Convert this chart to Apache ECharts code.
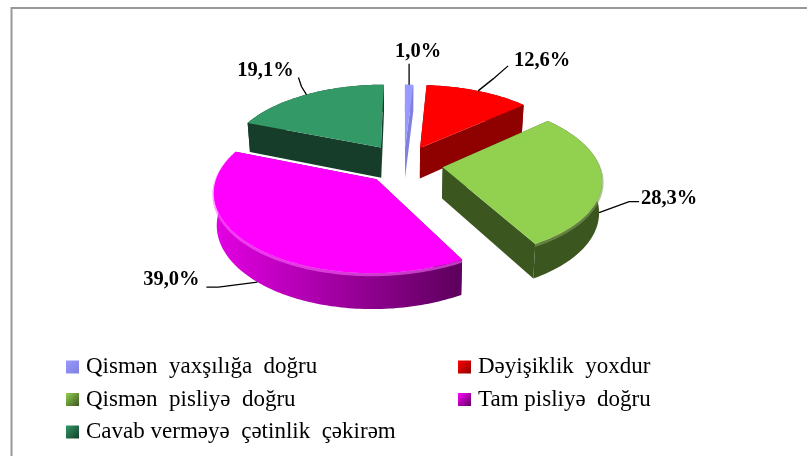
<!DOCTYPE html>
<html><head><meta charset="utf-8">
<style>html,body{margin:0;padding:0;background:#fff}#c{width:807px;height:456px}</style>
<script src="https://cdn.jsdelivr.net/npm/echarts@6/dist/echarts.min.js"></script>
</head><body><div id="c"></div>
<script>
const categories = ['Qismən  yaxşılığa  doğru','Dəyişiklik  yoxdur','Qismən  pisliyə  doğru','Tam pisliyə  doğru','Cavab verməyə  çətinlik  çəkirəm'];
const values = [1.0, 12.6, 28.3, 39.0, 19.1];
const valueLabels = ['1,0%','12,6%','28,3%','39,0%','19,1%'];
const topColors = ['#9999ff','#ff0000','#92d050','#ff00ff','#339966'];
const wallColors = ['#8080e0','#8f0000','#3c5620','#600060','#163d2a'];
const explode = [0.22,0.24,0.25,0.26,0.27];
const drawOrder = [4,0,1,2,3];

// projection of the tilted pie
const cx=404, cy=164, rx=156, ry=76, persp=0.14, depth=31, shrink=0.985;
function proj(u,v,low){
  const s=1/(1+persp*v);
  const x=cx+rx*u*s*(low?shrink:1);
  const y=cy-ry*v*s+(low?depth*Math.pow(s,0.8):0);
  return [x,y];
}
const total=values.reduce((a,b)=>a+b,0);
const slices=[]; let acc=0;
values.forEach((val,i)=>{
  const a0=acc/total*2*Math.PI; acc+=val; const a1=acc/total*2*Math.PI;
  const m=(a0+a1)/2;
  slices.push({a0,a1,m,ox:explode[i]*Math.sin(m),oy:explode[i]*Math.cos(m)});
});
function rimPt(i,a,low){const s=slices[i];return proj(s.ox+Math.sin(a),s.oy+Math.cos(a),low);}
function apexPt(i,low){const s=slices[i];return proj(s.ox,s.oy,low);}
function rimArc(i,low){const s=slices[i];const n=Math.max(4,Math.ceil((s.a1-s.a0)/0.02));const p=[];
  for(let k=0;k<=n;k++)p.push(rimPt(i,s.a0+(s.a1-s.a0)*k/n,low));return p;}

// leader line offsets from the rim point, label offset from the leader end
const leaders=[
  {mid:[0,-11],end:[0,-21],lab:[9,-12]},
  {mid:[15,-12],end:[30,-25],lab:[34,-5]},
  {mid:[30,-11],end:[40,-11],lab:[30,-3]},
  {mid:[-39,5],end:[-51,5],lab:[-35,-7]},
  {mid:[-5,-8],end:[-8,-17],lab:[-33,-7]}
];
function leaderBase(i){const s=slices[i];return rimPt(i,s.m,i===2||i===3);}

function renderer(i){
  return function(){
    const top=rimArc(i,false), low=rimArc(i,true);
    const A=apexPt(i,false), B=apexPt(i,true);
    const wallFill=wallColors[i];
    const rimFill=i===3?{type:'linear',x:0,y:0,x2:1,y2:0,colorStops:[{offset:0,color:'#e400e4'},{offset:0.5,color:'#a000a0'},{offset:1,color:'#5c005c'}]}:wallFill;
    const kids=[];
    const poly=(pts,fill)=>kids.push({type:'polygon',shape:{points:pts},style:{fill:fill}});
    poly([A,top[0],low[0],B],wallFill);
    poly([A,top[top.length-1],low[low.length-1],B],wallFill);
    poly(top.concat(low.slice().reverse()),rimFill);
    if(i===2||i===3){
      kids.push({type:'polyline',shape:{points:top.map(p=>[p[0],p[1]+1.5])},style:{fill:null,stroke:i===2?'#7f9f55':'#ff60ff',lineWidth:3,opacity:0.6}});
    }
    poly([A].concat(top),topColors[i]);
    const b=leaderBase(i), L=leaders[i];
    const mid=[b[0]+L.mid[0],b[1]+L.mid[1]], end=[b[0]+L.end[0],b[1]+L.end[1]];
    kids.push({type:'polyline',shape:{points:[b,mid,end]},style:{fill:null,stroke:'#000',lineWidth:1.3}});
    kids.push({type:'text',style:{x:end[0]+L.lab[0],y:end[1]+L.lab[1],text:valueLabels[i],fill:'#000',
      font:'bold 20.5px "Liberation Serif"',align:'center',verticalAlign:'middle'}});
    return {type:'group',children:kids};
  };
}
const legendIcon=(c,d)=>({color:{type:'linear',x:0,y:0,x2:1,y2:1,colorStops:[{offset:0,color:c},{offset:1,color:d}]}});
const legendItems=i=>({name:categories[i],icon:'rect',itemStyle:legendIcon(topColors[i],wallColors[i])});
const legendBase={orient:'vertical',itemWidth:13,itemHeight:13,itemGap:9.5,padding:0,selectedMode:false,
  textStyle:{fontFamily:'Liberation Serif',fontSize:23,color:'#000',padding:[0,0,0,2]}};
const chart=echarts.init(document.getElementById('c'),null,{renderer:'canvas'});
chart.setOption({
  animation:false,
  graphic:[{type:'polyline',silent:true,z:-1,shape:{points:[[11.5,456],[11.5,8],[807,8]]},style:{fill:null,stroke:'#999999',lineWidth:2}}],
  legend:[
    Object.assign({},legendBase,{left:66,top:355.5,data:[0,2,4].map(legendItems)}),
    Object.assign({},legendBase,{left:458,top:355.5,data:[1,3].map(legendItems)})
  ],
  series:drawOrder.map(i=>({
    type:'custom',name:categories[i],coordinateSystem:'none',silent:true,
    itemStyle:{color:topColors[i]},
    data:[[values[i]]],renderItem:renderer(i)
  }))
});
</script></body></html>
